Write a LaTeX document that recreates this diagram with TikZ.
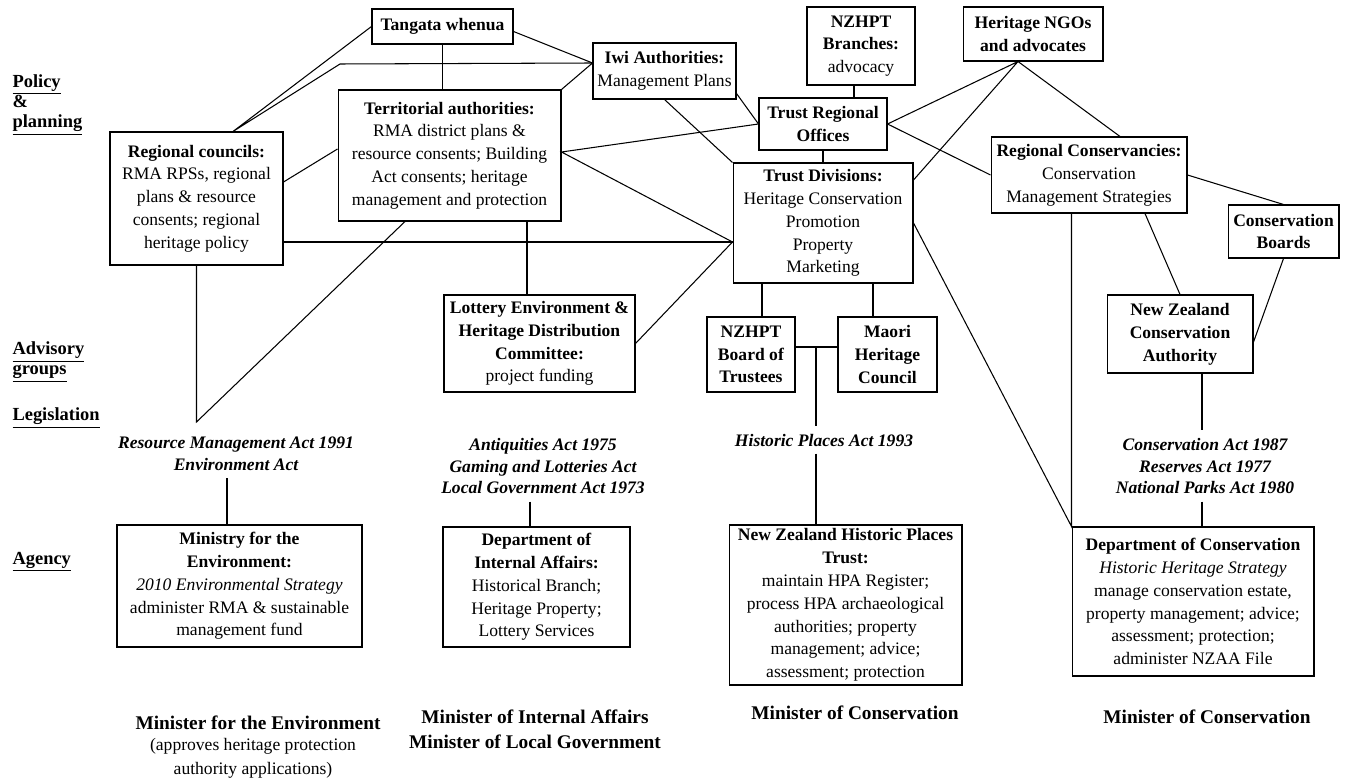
\documentclass[tikz,border=0pt]{standalone}
\usepackage{fontspec}
\setmainfont{Liberation Serif}
\usetikzlibrary{positioning, calc}

\begin{document}
\begin{tikzpicture}[x=0.02cm, y=-0.02cm, line width=0.6pt,
  box/.style={draw, align=center, inner sep=1pt, font=\fontsize{10}{13}\selectfont},
  act/.style={align=center, inner sep=4pt, font=\fontsize{10}{12.5}\selectfont\bfseries\itshape},
  tier/.style={align=left, anchor=west, inner sep=0pt, font=\fontsize{10.5}{11.5}\selectfont\bfseries},
  minister/.style={align=center, inner sep=1pt, font=\fontsize{11}{14}\selectfont\bfseries},
  note/.style={align=center, inner sep=1pt, font=\fontsize{10}{13.4}\selectfont}]

\fill[white] (0,0) rectangle (1348,777);

% --- tier labels ---
\node[tier] (tpolicy) at (12,105) {\underline{Policy}\\\&\\\underline{planning}};
\node[tier] (tadvice) at (12,362) {\underline{Advisory}\\\underline{groups}};
\node[tier] (tlegis) at (12,418) {\underline{Legislation}};
\node[tier] (tagency) at (12,562) {\underline{Agency}};

% --- policy & planning ---
\node[box, minimum width=2.82cm, minimum height=0.7cm] (tangata) at (442.5,26.5) {\textbf{Tangata whenua}};
\node[box, minimum width=2.16cm, minimum height=1.56cm] (branch) at (861,46) {\textbf{NZHPT}\\\textbf{Branches:}\\advocacy};
\node[box, minimum width=2.8cm, minimum height=1.08cm] (ngo) at (1033,34) {\textbf{Heritage NGOs}\\\textbf{and advocates}};
\node[box, minimum width=2.86cm, minimum height=1.12cm] (iwi) at (664.5,71) {\textbf{Iwi Authorities:}\\Management Plans};
\node[box, minimum width=2.56cm, minimum height=1.04cm] (office) at (823,124) {\textbf{Trust Regional}\\\textbf{Offices}};
\node[box, minimum width=4.46cm, minimum height=2.62cm] (terr) at (449.5,155.5)
  {\textbf{Territorial authorities:}\\RMA district plans \&\\resource consents; Building\\Act consents; heritage\\management and protection};
\node[box, minimum width=3.46cm, minimum height=2.66cm] (regc) at (196.5,198.5)
  {\textbf{Regional councils:}\\RMA RPSs, regional\\plans \& resource\\consents; regional\\heritage policy};
\node[box, minimum width=3.6cm, minimum height=2.4cm] (div) at (823,223)
  {\textbf{Trust Divisions:}\\Heritage Conservation\\Promotion\\Property\\Marketing};
\node[box, minimum width=3.92cm, minimum height=1.52cm] (cons) at (1089,175)
  {\textbf{Regional Conservancies:}\\Conservation\\Management Strategies};
\node[box, minimum width=2.22cm, minimum height=1.06cm] (boards) at (1283.5,231.5) {\textbf{Conservation}\\\textbf{Boards}};

% --- advisory groups ---
\node[box, minimum width=3.82cm, minimum height=1.94cm] (lottery) at (539.5,343.5)
  {\textbf{Lottery Environment \&}\\\textbf{Heritage Distribution}\\\textbf{Committee:}\\project funding};
\node[box, minimum width=1.76cm, minimum height=1.5cm] (trustees) at (751,354.5) {\textbf{NZHPT}\\\textbf{Board of}\\\textbf{Trustees}};
\node[box, minimum width=1.98cm, minimum height=1.5cm] (maori) at (887.5,354.5) {\textbf{Maori}\\\textbf{Heritage}\\\textbf{Council}};
\node[box, minimum width=2.92cm, minimum height=1.56cm] (nzca) at (1180,334) {\textbf{New Zealand}\\\textbf{Conservation}\\\textbf{Authority}};

% --- legislation ---
\node[act] (rma) at (236,454) {Resource Management Act 1991\\Environment Act};
\node[act] (antiq) at (543,466) {Antiquities Act 1975\\Gaming and Lotteries Act\\Local Government Act 1973};
\node[act] (hpa) at (824,440) {Historic Places Act 1993};
\node[act] (consact) at (1205,466) {Conservation Act 1987\\Reserves Act 1977\\National Parks Act 1980};

% --- agencies ---
\node[box, minimum width=4.9cm, minimum height=2.44cm] (mfe) at (239.5,586)
  {\textbf{Ministry for the}\\\textbf{Environment:}\\\textit{2010 Environmental Strategy}\\administer RMA \& sustainable\\management fund};
\node[box, minimum width=3.74cm, minimum height=2.4cm] (dia) at (536.5,587)
  {\textbf{Department of}\\\textbf{Internal Affairs:}\\Historical Branch;\\Heritage Property;\\Lottery Services};
\node[box, minimum width=4.66cm, minimum height=3.2cm] (nzhpt) at (845.5,605)
  {\textbf{New Zealand Historic Places}\\\textbf{Trust:}\\maintain HPA Register;\\process HPA archaeological\\authorities; property\\management; advice;\\assessment; protection};
\node[box, minimum width=4.84cm, minimum height=2.98cm] (doc) at (1193,601.5)
  {\textbf{Department of Conservation}\\\textit{Historic Heritage Strategy}\\manage conservation estate,\\property management; advice;\\assessment; protection;\\administer NZAA File};

% --- ministers ---
\node[minister] (minenv) at (258,723) {Minister for the Environment};
\node[note] (approve) at (253,758.5) {(approves heritage protection\\authority applications)};
\node[minister] (minint) at (535,729.5) {Minister of Internal Affairs\\Minister of Local Government};
\node[minister] (mincon) at (855,713) {Minister of Conservation};
\node[minister] (mincon2) at (1207,717) {Minister of Conservation};

% junction points
\coordinate (rctop) at ([xshift=0.73cm]regc.north);
\coordinate (bend) at (340,64);
\coordinate (iwiin) at ([yshift=0.16cm]iwi.west);
\coordinate (terrout) at ([yshift=0.07cm]terr.east);
\coordinate (divin) at ([yshift=-0.38cm]div.west);
\coordinate (ngoout) at ([xshift=-0.3cm]ngo.south);
\coordinate (rcv) at (regc.south |- 0,422);
\coordinate (bj) at (816,347);
\coordinate (nzcaout) at ([xshift=0.44cm]nzca.south);
\coordinate (mfein) at ([xshift=-0.25cm]mfe.north);
\coordinate (diain) at ([xshift=-0.13cm]dia.north);
\coordinate (lotin) at ([xshift=-0.25cm]lottery.north);
\coordinate (brout) at ([xshift=-0.14cm]branch.south);

% policy links
\draw (tangata.west) -- (rctop) -- (bend) -- (iwiin);
\draw ([yshift=-0.1cm]tangata.east) -- (iwiin) -- (terr.north east);
\draw (tangata.south) -- (tangata.south |- terr.north);
\draw ([yshift=0.33cm]regc.east) -- ([yshift=0.13cm]terr.west);
\draw (divin -| regc.east) -- (divin);
\draw (lotin) -- (lotin |- terr.south);
\draw (office.west) -- (terrout) -- (divin) -- (lottery.east);
\draw (iwi.south) -- (div.north west);
\draw ([yshift=0.12cm]iwi.south east) -- (office.west);
\draw (regc.south) -- (rcv) -- ([xshift=-0.89cm]terr.south);
\draw (brout) -- (brout |- office.north);
\draw (office.south) -- (div.north);
\draw (office.east) -- (ngoout) -- ([yshift=0.86cm]div.east);
\draw (ngoout) -- ([xshift=0.62cm]cons.north);
\draw (office.east) -- (cons.west);
\draw (div.east) -- (doc.north west) -- (doc.north west |- cons.south);
\draw ([xshift=1.12cm]cons.south) -- (nzca.north);
\draw (cons.east) -- (boards.north);
\draw (boards.south) -- ([yshift=-0.16cm]nzca.east);

% advisory and legislation links
\draw ([xshift=0.22cm]trustees.north) -- ([xshift=0.22cm]trustees.north |- div.south);
\draw ([xshift=-0.29cm]maori.north) -- ([xshift=-0.29cm]maori.north |- div.south);
\draw ([yshift=0.15cm]trustees.east) -- ([yshift=0.15cm]maori.west);
\draw (bj) -- (bj |- hpa.north);
\draw (hpa.south -| bj) -- (bj |- nzhpt.north);
\draw (nzcaout) -- (nzcaout |- consact.north);
\draw (nzcaout |- consact.south) -- (nzcaout |- doc.north);
\draw (mfein |- rma.south) -- (mfein);
\draw (diain |- antiq.south) -- (diain);

\end{tikzpicture}
\end{document}
